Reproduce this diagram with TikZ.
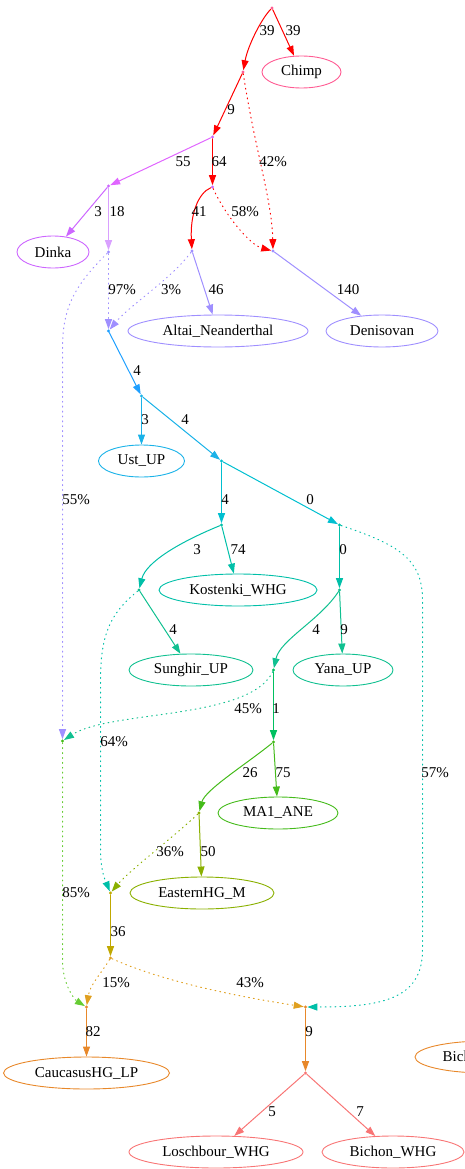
\documentclass[tikz,border=0pt]{standalone}
\usepackage{fontspec}
\setmainfont{Liberation Serif}
\usetikzlibrary{shapes.geometric,arrows.meta}

\definecolor{pinkc}{HTML}{FF5C93}
\definecolor{redc}{HTML}{FF0000}
\definecolor{orchidc}{HTML}{E066FF}
\definecolor{violetc}{HTML}{CC66FF}
\definecolor{lilacc}{HTML}{D9A0FF}
\definecolor{lavc}{HTML}{9F8FFF}
\definecolor{bluec}{HTML}{1E9FFF}
\definecolor{skyc}{HTML}{1AB2E8}
\definecolor{cyanc}{HTML}{00BFD0}
\definecolor{tealc}{HTML}{00BFA8}
\definecolor{seac}{HTML}{10C090}
\definecolor{greenc}{HTML}{00C060}
\definecolor{grassc}{HTML}{44BB1A}
\definecolor{limec}{HTML}{66CC33}
\definecolor{olivec}{HTML}{8AB000}
\definecolor{goldc}{HTML}{C0A800}
\definecolor{amberc}{HTML}{E0A020}
\definecolor{orangec}{HTML}{E8882A}
\definecolor{salmonc}{HTML}{F87575}

\begin{document}
\begin{tikzpicture}[x=1pt,y=-1pt,line cap=round,
    font={\fontsize{15}{18}\selectfont},
    pt/.style={circle, fill=#1, inner sep=0pt, minimum size=3.2pt},
    leaf/.style={ellipse, draw=#1, inner sep=0pt, minimum height=32pt, line width=0.9pt},
    e/.style={draw=#1, line width=1pt, -{Triangle[length=10pt,width=7pt,fill=#1]}},
    mix/.style={e=#1, dash pattern=on 0.9pt off 4pt},
    lbl/.style={inner sep=0pt}]
    \useasboundingbox (0,0) rectangle (464,1169);

    % branch points
    \node[pt=pinkc] (r) at (272, 8) {};
    \node[pt=pinkc] (n1) at (243, 72) {};
    \node[pt=violetc] (n2) at (212.5, 137) {};
    \node[pt=violetc] (n3) at (108.5, 186) {};
    \node[pt=violetc] (n4) at (212.5, 187) {};
    \node[pt=lavc] (n5) at (273, 251) {};
    \node[pt=lavc] (n6) at (192, 251) {};
    \node[pt=lavc] (n7) at (108.5, 252) {};
    \node[pt=bluec] (n8) at (108.5, 331) {};
    \node[pt=grassc] (n9) at (62.5, 741) {};
    \node[pt=skyc] (n10) at (141.5, 396) {};
    \node[pt=cyanc] (n11) at (221.5, 461) {};
    \node[pt=tealc] (n12) at (221.5, 525) {};
    \node[pt=tealc] (n13) at (339.5, 525) {};
    \node[pt=seac] (n14) at (139, 590) {};
    \node[pt=seac] (n15) at (339.5, 590) {};
    \node[pt=greenc] (n16) at (273.5, 670) {};
    \node[pt=grassc] (n17) at (273.5, 742) {};
    \node[pt=goldc] (n18) at (110.5, 893) {};
    \node[pt=olivec] (n19) at (199, 813) {};
    \node[pt=amberc] (n20) at (110.5, 958) {};
    \node[pt=orangec] (n21) at (86.5, 1007) {};
    \node[pt=orangec] (n22) at (305.5, 1007) {};
    \node[pt=salmonc] (n23) at (305.5, 1073) {};

    % populations
    \node[leaf=pinkc, minimum width=79pt] (chimp) at (301.5, 72) {Chimp};
    \node[leaf=violetc, minimum width=72pt] (dinka) at (53, 252) {Dinka};
    \node[leaf=lavc, minimum width=180pt] (altai) at (218, 331) {Altai\_Neanderthal};
    \node[leaf=lavc, minimum width=112pt] (deni) at (382, 331) {Denisovan};
    \node[leaf=skyc, minimum width=86pt] (ust) at (141.5, 461) {Ust\_UP};
    \node[leaf=tealc, minimum width=158pt] (kost) at (238, 590) {Kostenki\_WHG};
    \node[leaf=seac, minimum width=124pt] (sung) at (191, 670) {Sunghir\_UP};
    \node[leaf=seac, minimum width=100pt] (yana) at (343, 670) {Yana\_UP};
    \node[leaf=grassc, minimum width=120pt] (ma1) at (278, 813) {MA1\_ANE};
    \node[leaf=olivec, minimum width=144pt] (ehg) at (202, 893) {EasternHG\_M};
    \node[leaf=orangec, minimum width=166pt] (chg) at (86.5, 1073) {CaucasusHG\_LP};
    \node[leaf=orangec, minimum width=142pt] (bic) at (486, 1057) {Bichon\_WHG};
    \node[leaf=salmonc, minimum width=174pt] (losch) at (216, 1152) {Loschbour\_WHG};
    \node[leaf=salmonc, minimum width=142pt] (bichon) at (393, 1152) {Bichon\_WHG};

    % drift edges
    \draw[e=redc] (r) .. controls (262, 18) and (248, 45) .. (n1);
    \draw[e=redc] (r) -- (chimp);
    \draw[e=redc] (n1) -- (n2);
    \draw[e=orchidc] (n2) -- (n3);
    \draw[e=redc] (n2) -- (n4);
    \draw[e=violetc] (n3) -- (dinka);
    \draw[e=lilacc] (n3) -- (n7);
    \draw[e=redc] (n4) .. controls (198, 193) and (190, 215) .. (n6);
    \draw[e=lavc] (n6) -- (altai);
    \draw[e=lavc] (n5) -- (deni);
    \draw[e=bluec] (n8) -- (n10);
    \draw[e=skyc] (n10) -- (ust);
    \draw[e=skyc] (n10) -- (n11);
    \draw[e=cyanc] (n11) -- (n12);
    \draw[e=cyanc] (n11) -- (n13);
    \draw[e=tealc] (n12) -- (kost);
    \draw[e=tealc] (n12) .. controls (180, 542) and (146, 562) .. (n14);
    \draw[e=tealc] (n13) -- (n15);
    \draw[e=seac] (n14) -- (sung);
    \draw[e=seac] (n15) -- (yana);
    \draw[e=seac] (n15) .. controls (320, 620) and (280, 640) .. (n16);
    \draw[e=greenc] (n16) -- (n17);
    \draw[e=grassc] (n17) -- (ma1);
    \draw[e=grassc] (n17) .. controls (245, 765) and (205, 790) .. (n19);
    \draw[e=olivec] (n19) -- (ehg);
    \draw[e=goldc] (n18) -- (n20);
    \draw[e=orangec] (n21) -- (chg);
    \draw[e=orangec] (n22) -- (n23);
    \draw[e=salmonc] (n23) -- (losch);
    \draw[e=salmonc] (n23) -- (bichon);

    % admixture edges
    \draw[mix=redc] (n1) .. controls (255, 150) and (272, 200) .. (n5);
    \draw[mix=redc] (n4) .. controls (225, 215) and (250, 245) .. (n5);
    \draw[mix=lavc] (n7) -- (n8);
    \draw[mix=lavc] (n6) .. controls (170, 280) and (130, 305) .. (n8);
    \draw[mix=lavc] (n7) .. controls (72, 288) and (62.5, 310) .. (62.5, 350) -- (n9);
    \draw[mix=tealc] (n14) .. controls (112, 612) and (100.5, 632) .. (100.5, 680) -- (100.5, 850) .. controls (100.5, 872) and (106, 882) .. (n18);
    \draw[mix=tealc] (n13) .. controls (400, 545) and (422.5, 560) .. (422.5, 600) -- (422.5, 950) .. controls (422.5, 1000) and (380, 1007) .. (n22);
    \draw[mix=seac] (n16) .. controls (250, 720) and (110, 710) .. (n9);
    \draw[mix=olivec] (n19) .. controls (170, 840) and (130, 870) .. (n18);
    \draw[mix=limec] (n9) -- (62.5, 960) .. controls (62.5, 985) and (75, 1000) .. (n21);
    \draw[mix=amberc] (n20) .. controls (100, 975) and (90, 985) .. (n21);
    \draw[mix=amberc] (n20) .. controls (170, 985) and (260, 1000) .. (n22);

    % edge labels
    \node[lbl] (l1) at (267, 31) {39};
    \node[lbl] (l2) at (293, 31) {39};
    \node[lbl] (l3) at (231, 110) {9};
    \node[lbl] (l4) at (183, 162) {55};
    \node[lbl] (l5) at (219, 162) {64};
    \node[lbl] (l6) at (273, 162) {42\%};
    \node[lbl] (l7) at (98, 212) {3};
    \node[lbl] (l8) at (117, 212) {18};
    \node[lbl] (l9) at (199, 212) {41};
    \node[lbl] (l10) at (245, 212) {58\%};
    \node[lbl] (l11) at (122, 290) {97\%};
    \node[lbl] (l12) at (171, 290) {3\%};
    \node[lbl] (l13) at (216, 290) {46};
    \node[lbl] (l14) at (348, 290) {140};
    \node[lbl] (l15) at (76, 500) {55\%};
    \node[lbl] (l16) at (137, 371) {4};
    \node[lbl] (l17) at (145, 420) {3};
    \node[lbl] (l18) at (185, 420) {4};
    \node[lbl] (l19) at (225, 500) {4};
    \node[lbl] (l20) at (310, 500) {0};
    \node[lbl] (l21) at (197, 550) {3};
    \node[lbl] (l22) at (238, 550) {74};
    \node[lbl] (l23) at (343, 550) {0};
    \node[lbl] (l24) at (173, 630) {4};
    \node[lbl] (l25) at (316, 630) {4};
    \node[lbl] (l26) at (344, 630) {9};
    \node[lbl] (l27) at (248, 709) {45\%};
    \node[lbl] (l28) at (276, 709) {1};
    \node[lbl] (l29) at (114, 742) {64\%};
    \node[lbl] (l30) at (435, 773) {57\%};
    \node[lbl] (l31) at (250, 773) {26};
    \node[lbl] (l32) at (283, 773) {75};
    \node[lbl] (l33) at (170, 852) {36\%};
    \node[lbl] (l34) at (208, 852) {50};
    \node[lbl] (l35) at (76, 893) {85\%};
    \node[lbl] (l36) at (118, 932) {36};
    \node[lbl] (l37) at (116, 983) {15\%};
    \node[lbl] (l38) at (250, 983) {43\%};
    \node[lbl] (l39) at (93, 1032) {82};
    \node[lbl] (l40) at (309, 1032) {9};
    \node[lbl] (l41) at (272, 1112) {5};
    \node[lbl] (l42) at (360, 1112) {7};
\end{tikzpicture}
\end{document}
